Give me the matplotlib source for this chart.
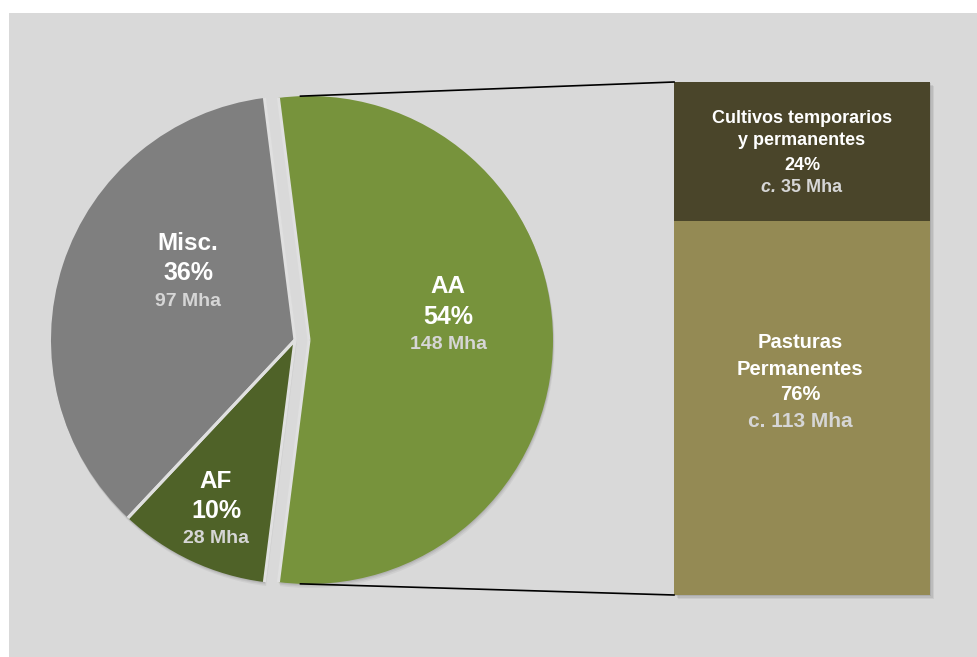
import numpy as np
import matplotlib.pyplot as plt
from matplotlib.patches import Rectangle

# pie data (AA, Misc., AF)
pie_labels = ['AA', 'Misc.', 'AF']
pie_share = [54, 36, 10]
pie_mha = ['148 Mha', '97 Mha', '28 Mha']
pie_colors = ['#77933c', '#7f7f7f', '#4f6228']

# bar of pie (bottom -> top), heights
bar_names = ['Pasturas\nPermanentes', 'Cultivos temporarios\ny permanentes']
bar_share = [73, 27]
bar_pct = ['76%', '24%']
bar_mha = ['113 Mha', '35 Mha']
bar_colors = ['#948a54', '#4a452a']

W, H = 977, 657
FONT = 'Liberation Sans'
LIGHT = '#d6d6d6'
EDGE = '#e0e0e0'

fig = plt.figure(figsize=(W / 100, H / 100), dpi=100)
fig.patch.set_facecolor('white')
ax = fig.add_axes([0, 0, 1, 1])

# grey chart area
ax.add_patch(Rectangle((9, 0), W - 9, H - 13, facecolor='#d9d9d9', edgecolor='none', zorder=0))

cx, cy, R = 295, 317, 244
start = -pie_share[0] / 100 * 360 / 2
explode = [14, 0, 0]

# soft shadow under the pie
for off, a in [(4, 0.08), (2.5, 0.10), (1.2, 0.12)]:
    ax.pie(pie_share, colors=['#555555'] * 3, startangle=start, center=(cx + off * 0.4, cy - off),
           radius=R, explode=explode, wedgeprops=dict(linewidth=0, alpha=a), frame=True)

wedges, _ = ax.pie(pie_share, colors=pie_colors, startangle=start, center=(cx, cy), radius=R,
                   explode=explode, wedgeprops=dict(linewidth=0), frame=True)

# light separators along the slice borders
for w in wedges:
    wx, wy = w.center
    for ang in (w.theta1, w.theta2):
        ax.plot([wx, wx + R * np.cos(np.radians(ang))], [wy, wy + R * np.sin(np.radians(ang))],
                color=EDGE, lw=2.2, solid_capstyle='butt', zorder=2)

# bar
bx, bw, by0, bh = 802, 256, 62, 513
scale = bh / sum(bar_share)
heights = np.array(bar_share) * scale
bottoms = by0 + np.concatenate([[0], np.cumsum(heights)[:-1]])
for off, a in [(4, 0.10), (2.5, 0.12), (1.2, 0.15)]:
    ax.add_patch(Rectangle((bx - bw / 2 + off, by0 - off), bw, bh, facecolor='#555555',
                           alpha=a, edgecolor='none', zorder=1))
ax.bar(bx, heights, width=bw, bottom=bottoms, color=bar_colors, zorder=2)

# connector lines
acx = cx + explode[0]
for ang, yb in [(92, by0 + bh), (-92, by0)]:
    x0 = acx + R * np.cos(np.radians(ang))
    y0 = cy + R * np.sin(np.radians(ang))
    ax.plot([x0, bx - bw / 2], [y0, yb], color='black', lw=1.2, zorder=3)

ax.set_xlim(0, W)
ax.set_ylim(0, H)
ax.set_aspect('auto')
ax.axis('off')


def txt(x, ybase, s, size, color='white', style='normal'):
    return ax.text(x, H - ybase, s, ha='center', va='baseline', fontsize=size, color=color,
                   fontweight='bold', family=FONT, style=style, zorder=5)


# pie labels: (x, baselines)
pie_pos = [(448, (293, 324, 349)), (188, (250, 280, 306)), (216, (488, 518, 543))]
for lab, pct, mha, (x, ys) in zip(pie_labels, pie_share, pie_mha, pie_pos):
    txt(x, ys[0], lab, 17.5)
    txt(x, ys[1], f'{pct}%', 18)
    txt(x, ys[2], mha, 14, LIGHT)

# bar labels
# Pasturas
p_lines = bar_names[0].split('\n')
txt(800, 348, p_lines[0], 14.5)
txt(800, 375, p_lines[1], 14.5)
txt(800, 400, bar_pct[0], 14.5)
txt(800, 427, 'c. ' + bar_mha[0], 15, LIGHT)

# Cultivos
c_lines = bar_names[1].split('\n')
txt(802, 123, c_lines[0], 13)
txt(802, 145, c_lines[1], 13)
txt(802, 170, bar_pct[1], 13)

# "c." in italics followed by the value
t1 = ax.text(0, H - 192, 'c. ', ha='left', va='baseline', fontsize=13, color=LIGHT,
             fontweight='bold', style='italic', family=FONT, zorder=5)
t2 = ax.text(0, H - 192, bar_mha[1], ha='left', va='baseline', fontsize=13, color=LIGHT,
             fontweight='bold', family=FONT, zorder=5)
fig.canvas.draw()
r = fig.canvas.get_renderer()
w1 = t1.get_window_extent(r).width
w2 = t2.get_window_extent(r).width
left = 802 - (w1 + w2) / 2
t1.set_x(left)
t2.set_x(left + w1)

fig.savefig('out.png', dpi=100)
